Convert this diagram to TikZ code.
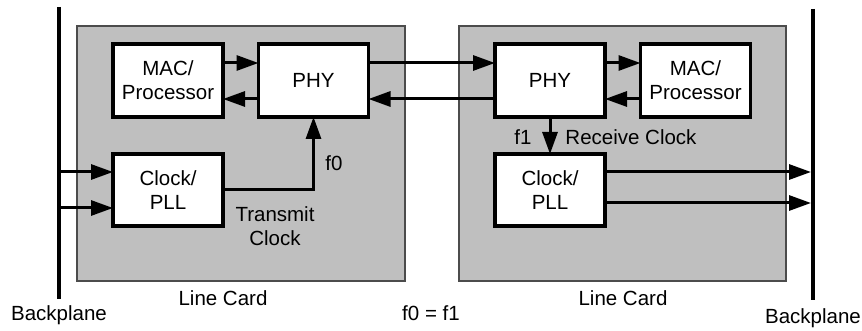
\documentclass[tikz,border=0pt]{standalone}
\usepackage{fontspec}
\setmainfont{Liberation Sans}
\usetikzlibrary{arrows.meta}
\begin{document}
\begin{tikzpicture}[x=1pt,y=-1pt,
  every node/.style={font=\fontsize{20.5}{24}\selectfont, inner sep=0pt, outer sep=0pt},
  card/.style={draw=black!70, line width=1.8pt, fill=black!25, minimum height=255pt},
  blk/.style={draw=black, line width=3.5pt, fill=white, minimum width=110pt, minimum height=73pt, align=center},
  arr/.style={line width=3pt, -{Triangle[length=22pt,width=15pt]}},
  bp/.style={line width=4pt},
  lbl/.style={align=center}]
\useasboundingbox (0,0) rectangle (862,331);
% cards
\node[card, minimum width=328pt] (lcard) at (241,153.5) {};
\node[card, minimum width=327pt] (rcard) at (622.5,153.5) {};
% backplanes
\coordinate (bltop) at (59,7);
\coordinate (blbot) at (59,299);
\coordinate (brtop) at (813,9);
\coordinate (brbot) at (813,300);
\draw[bp] (bltop) -- (blbot);
\draw[bp] (brtop) -- (brbot);
% blocks
\node[blk] (lmac) at (168,80.5) {MAC/\\Processor};
\node[blk] (lphy) at (313.5,80.5) {PHY};
\node[blk, minimum height=72pt] (lclk) at (168,190) {Clock/\\PLL};
\node[blk] (rphy) at (550,80.5) {PHY};
\node[blk] (rmac) at (695.5,80.5) {MAC/\\Processor};
\node[blk, minimum height=72pt] (rclk) at (550,190) {Clock/\\PLL};
% arrows top row
\draw[arr] ([yshift=17.5pt]lmac.east) -- ([yshift=17.5pt]lphy.west);
\draw[arr] ([yshift=-18.5pt]lphy.west) -- ([yshift=-18.5pt]lmac.east);
\draw[arr] ([yshift=17.5pt]lphy.east) -- ([yshift=17.5pt]rphy.west);
\draw[arr] ([yshift=-18.5pt]rphy.west) -- ([yshift=-18.5pt]lphy.east);
\draw[arr] ([yshift=17.5pt]rphy.east) -- ([yshift=17.5pt]rmac.west);
\draw[arr] ([yshift=-18.5pt]rmac.west) -- ([yshift=-18.5pt]rphy.east);
% clocks
\draw[arr] (lclk.east) -| (lphy.south);
\draw[arr] (rphy.south) -- (rclk.north);
% backplane connections
\coordinate (bl1) at (59,172);
\coordinate (bl2) at (59,208);
\coordinate (br1) at (811,172);
\coordinate (br2) at (811,203);
\draw[arr] (bl1) -- (lclk.west|-bl1);
\draw[arr] (bl2) -- (lclk.west|-bl2);
\draw[arr] (rclk.east|-br1) -- (br1);
\draw[arr] (rclk.east|-br2) -- (br2);
% labels
\node (f0) at (334,163) {f0};
\node (f1) at (523,137) {f1};
\node (rxclk) at (631,137) {Receive Clock};
\node[lbl] (txclk) at (275,226.5) {Transmit\\Clock};
\node (lcl) at (223,298) {Line Card};
\node (rcl) at (623,298) {Line Card};
\node (eq) at (431,313) {f0 = f1};
\node (bpl) at (59,315) {Backplane};
\node (bpr) at (813,318) {Backplane};
\end{tikzpicture}
\end{document}
